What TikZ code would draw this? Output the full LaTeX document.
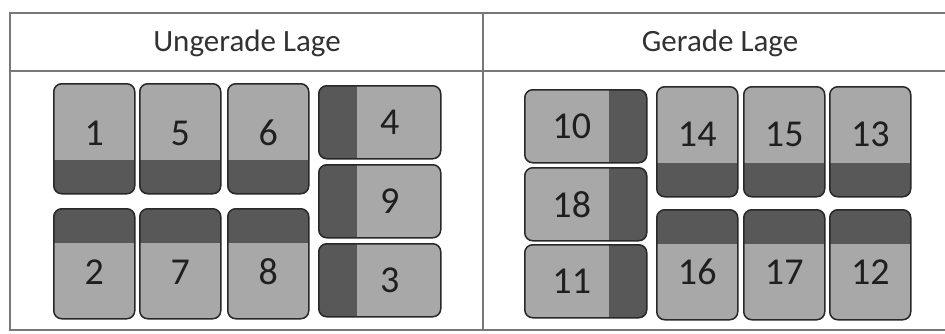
\documentclass[tikz,border=0pt]{standalone}
\usepackage{fontspec}
\setmainfont{Carlito}
\usepackage{xcolor}
\usepackage{tikz}
\usetikzlibrary{positioning}

\definecolor{frameline}{RGB}{120,120,120}
\definecolor{tileedge}{RGB}{40,40,40}
\definecolor{tilelight}{RGB}{168,168,168}
\definecolor{tiledark}{RGB}{88,88,88}
\definecolor{headtext}{RGB}{50,50,50}

\begin{document}
\begin{tikzpicture}[
  x=1pt, y=-1pt,
  frame/.style={draw=frameline, line width=1.8pt},
  head/.style={font=\fontsize{31}{31}\selectfont, text=headtext, inner sep=0pt},
  num/.style={font=\fontsize{38}{38}\selectfont, text=black!88, inner sep=0pt},
  tilebox/.style={draw=tileedge, line width=1.5pt, fill=tilelight, rounded corners=8pt,
                  inner sep=0pt, anchor=north west},
  upright/.style={tilebox, minimum width=81pt, minimum height=110pt},
  lying/.style={tilebox, minimum width=122pt, minimum height=73pt},
  darkbot/.style={path picture={\fill[tiledark, sharp corners] (path picture bounding box.south west)
                  rectangle ([yshift=34pt]path picture bounding box.south east);}},
  darktop/.style={path picture={\fill[tiledark, sharp corners] (path picture bounding box.north west)
                  rectangle ([yshift=-34pt]path picture bounding box.north east);}},
  darkleft/.style={path picture={\fill[tiledark, sharp corners] (path picture bounding box.north west)
                  rectangle ([xshift=38pt]path picture bounding box.south west);}},
  darkright/.style={path picture={\fill[tiledark, sharp corners] ([xshift=-38pt]path picture bounding box.north east)
                  rectangle (path picture bounding box.south east);}}
]
\useasboundingbox (0,0) rectangle (945,333);

% table frame
\draw[frame] (945,13) -- (10,13) -- (10,330) -- (945,330);
\draw[frame] (10,71) -- (945,71);
\draw[frame] (483,13) -- (483,330);
\node[head] (odd)  at (247,43) {Ungerade Lage};
\node[head] (even) at (720,43) {Gerade Lage};

% Ungerade Lage
\foreach \n/\x in {1/53, 5/139, 6/227} {
  \node[upright, darkbot] (t\n) at (\x,83) {};
  \node[num] (n\n) at ([yshift=-50pt]t\n.north) {\n};
}
\foreach \n/\x in {2/53, 7/139, 8/227} {
  \node[upright, darktop] (t\n) at (\x,208) {};
  \node[num] (n\n) at ([yshift=-64pt]t\n.north) {\n};
}
\foreach \n/\y in {4/85, 9/164, 3/243} {
  \node[lying, darkleft] (t\n) at (318,\y) {};
  \node[num] (n\n) at ([xshift=10pt]t\n.center) {\n};
}

% Gerade Lage
\foreach \n/\y in {10/89, 18/167, 11/244} {
  \node[lying, darkright] (t\n) at (524,\y) {};
  \node[num] (n\n) at ([xshift=-14pt]t\n.center) {\n};
}
\foreach \n/\x in {14/656, 15/743, 13/829} {
  \node[upright, darkbot] (t\n) at (\x,86) {};
  \node[num] (n\n) at ([yshift=-48pt]t\n.north) {\n};
}
\foreach \n/\x in {16/656, 17/743, 12/829} {
  \node[upright, darktop] (t\n) at (\x,209) {};
  \node[num] (n\n) at ([yshift=-63pt]t\n.north) {\n};
}
\end{tikzpicture}
\end{document}
